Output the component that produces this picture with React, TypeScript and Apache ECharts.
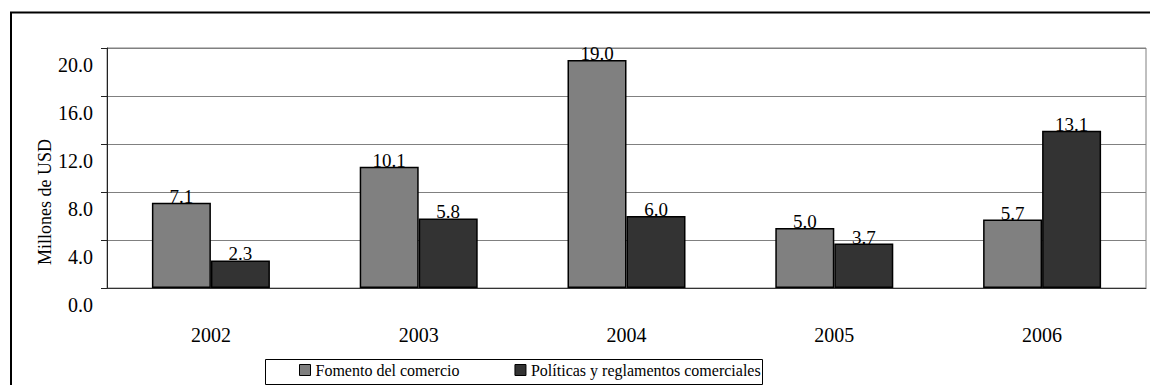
import React, { useEffect, useRef } from "react";
import * as echarts from "echarts";

const categories = ["2002", "2003", "2004", "2005", "2006"];
const fomento = [7.1, 10.1, 19.0, 5.0, 5.7];
const politicas = [2.3, 5.8, 6.0, 3.7, 13.1];
const seriesNames = ["Fomento del comercio", "Políticas y reglamentos comerciales"];
const yTitle = "Millones de USD";

const FONT = "'Liberation Serif', 'Times New Roman', serif";

export default function App() {
  const ref = useRef<HTMLDivElement>(null);
  useEffect(() => {
    if (!ref.current) return;
    const chart = echarts.init(ref.current, undefined, { renderer: "svg" });
    const label = {
      show: true,
      position: "top",
      distance: -3,
      color: "#000",
      fontFamily: FONT,
      fontSize: 19,
      formatter: (p: any) => Number(p.value).toFixed(1),
    };
    chart.setOption({
      animation: false,
      backgroundColor: "#fff",
      textStyle: { fontFamily: FONT },
      grid: { left: 107, right: 4, top: 48, bottom: 97, show: true, borderColor: "#808080", borderWidth: 1 },
      xAxis: {
        type: "category",
        data: categories,
        axisLine: { lineStyle: { color: "#333", width: 1 } },
        axisTick: { length: 5, lineStyle: { color: "#333" } },
        axisLabel: { color: "#000", fontFamily: FONT, fontSize: 20, margin: 37 },
      },
      yAxis: {
        type: "value",
        min: 0,
        max: 20,
        interval: 4,
        axisLine: { show: true, lineStyle: { color: "#222", width: 1 } },
        axisTick: { show: true, length: 6, lineStyle: { color: "#222" } },
        splitLine: { lineStyle: { color: "#808080", width: 1 } },
        axisLabel: {
          color: "#000",
          fontFamily: FONT,
          fontSize: 20,
          margin: 14,
          verticalAlign: "top",
          padding: [7, 0, 0, 0],
          formatter: (v: number) => v.toFixed(1),
        },
      },
      legend: {
        data: seriesNames,
        left: 299,
        top: 362,
        padding: 0,
        itemWidth: 11,
        itemHeight: 11,
        itemGap: 55,
        icon: "rect",
        itemStyle: { borderColor: "#000", borderWidth: 1 },
        textStyle: { color: "#000", fontFamily: FONT, fontSize: 16 },
      },
      graphic: [
        {
          type: "rect",
          shape: { x: 11, y: 12.5, width: 1160, height: 420 },
          style: { fill: "none", stroke: "#000", lineWidth: 2 },
          silent: true,
        },
        {
          type: "rect",
          shape: { x: 265.5, y: 359.5, width: 497, height: 25 },
          style: { fill: "none", stroke: "#000", lineWidth: 1 },
          silent: true,
        },
        {
          type: "text",
          x: 45,
          y: 202,
          rotation: Math.PI / 2,
          style: {
            text: yTitle,
            fill: "#000",
            font: `18px ${FONT}`,
            align: "center",
            verticalAlign: "middle",
          },
          silent: true,
        },
      ],
      series: [
        {
          name: seriesNames[0],
          type: "bar",
          data: fomento,
          barWidth: 59,
          barGap: "0%",
          itemStyle: { color: "#808080", borderColor: "#000", borderWidth: 1.5 },
          label,
        },
        {
          name: seriesNames[1],
          type: "bar",
          data: politicas,
          barWidth: 59,
          barGap: "0%",
          itemStyle: { color: "#333333", borderColor: "#000", borderWidth: 1.5 },
          label,
        },
      ],
    });
    return () => chart.dispose();
  }, []);
  return (
    <div
      ref={ref}
      style={{ position: "absolute", left: 0, top: 0, width: 1150, height: 385 }}
    />
  );
}
